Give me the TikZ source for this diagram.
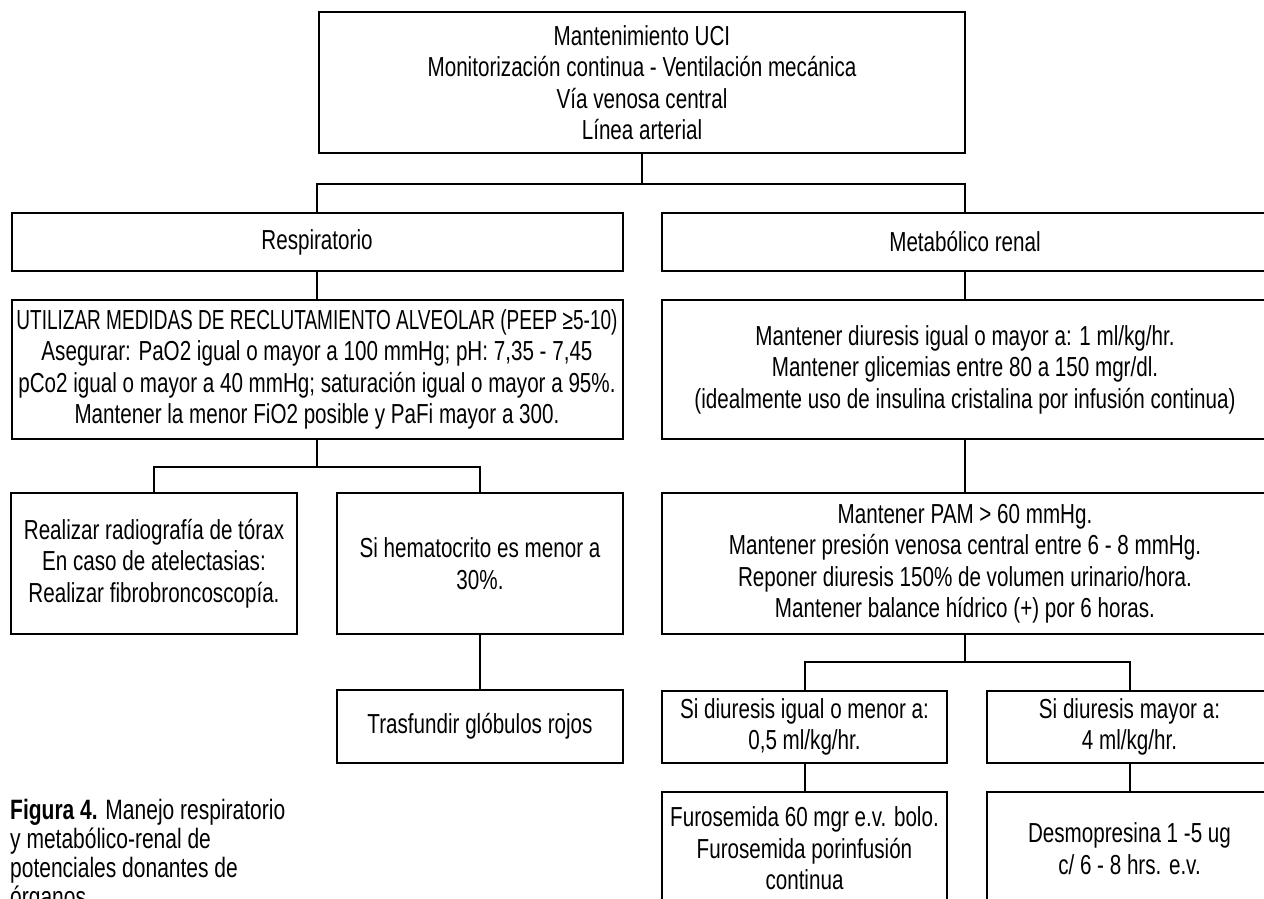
\documentclass[tikz,border=0pt]{standalone}
\usepackage{graphicx}
\usepackage{fontspec}
\setmainfont[FakeStretch=0.75]{Liberation Sans}
\newcommand\boxfont{\fontsize{27.5}{31.5}\selectfont}
\newcommand\capfont{\fontsize{28}{29}\selectfont}
\tikzset{
  box/.style={draw, line width=2pt, inner sep=0pt, align=center, font=\boxfont},
  link/.style={line width=2pt},
}
\begin{document}
\begin{tikzpicture}[x=1pt, y=-1pt]
\useasboundingbox (0,0) rectangle (1264,899);
\clip (0,0) rectangle (1264,899);

% top level
\node[box, minimum width=646pt, minimum height=141pt] (top) at (642,82.5)
  {Mantenimiento UCI\\Monitorización continua - Ventilación mecánica\\Vía venosa central\\Línea arterial};

% two branches
\node[box, minimum width=611pt, minimum height=58pt] (resp) at (317,242) {Respiratorio};
\node[box, minimum width=607pt, minimum height=58pt] (metab) at (965,242) {Metabólico renal};

% respiratory branch
\node[box, minimum width=611pt, minimum height=139pt] (util) at (317,369.5)
  {\scalebox{0.922}[1]{UTILIZAR MEDIDAS DE RECLUTAMIENTO ALVEOLAR (PEEP ≥5-10)}\\Asegurar: PaO2 igual o mayor a 100 mmHg; pH: 7,35 - 7,45\\pCo2 igual o mayor a 40 mmHg; saturación igual o mayor a 95\%.\\Mantener la menor FiO2 posible y PaFi mayor a 300.};
\node[box, minimum width=285.5pt, minimum height=141pt] (radio) at (154,563.5)
  {Realizar radiografía de tórax\\En caso de atelectasias:\\Realizar fibrobroncoscopía.};
\node[box, minimum width=285.5pt, minimum height=141pt] (hema) at (480,563.5)
  {Si hematocrito es menor a\\30\%.};
\node[box, minimum width=285.5pt, minimum height=73pt] (trasf) at (480,726.5)
  {Trasfundir glóbulos rojos};

% metabolic-renal branch
\node[box, minimum width=607pt, minimum height=139pt] (meta2) at (965,369.5)
  {Mantener diuresis igual o mayor a: 1 ml/kg/hr.\\Mantener glicemias entre 80 a 150 mgr/dl.\\(idealmente uso de insulina cristalina por infusión continua)};
\node[box, minimum width=607pt, minimum height=141pt] (pam) at (965,563.5)
  {Mantener PAM > 60 mmHg.\\Mantener presión venosa central entre 6 - 8 mmHg.\\Reponer diuresis 150\% de volumen urinario/hora.\\Mantener balance hídrico (+) por 6 horas.};
\node[box, minimum width=285.5pt, minimum height=72pt] (low) at (804.5,727)
  {Si diuresis igual o menor a:\\0,5 ml/kg/hr.};
\node[box, minimum width=285.5pt, minimum height=72pt] (high) at (1129.5,727)
  {Si diuresis mayor a:\\4 ml/kg/hr.};
\node[box, minimum width=285.5pt, minimum height=113pt] (furo) at (804.5,848.5)
  {Furosemida 60 mgr e.v. bolo.\\Furosemida porinfusión\\continua};
\node[box, minimum width=285.5pt, minimum height=113pt] (desmo) at (1129.5,848.5)
  {Desmopresina 1 -5 ug\\c/ 6 - 8 hrs. e.v.};

% connectors
\draw[link] (top.south) -- (top.south |- 0,184) coordinate (j1);
\draw[link] (j1) -| (resp.north);
\draw[link] (j1) -| (metab.north);
\draw[link] (resp.south) -- (util.north);
\draw[link] (metab.south) -- (meta2.north);
\draw[link] (util.south) -- (util.south |- 0,467) coordinate (j2);
\draw[link] (j2) -| (radio.north);
\draw[link] (j2) -| (hema.north);
\draw[link] (hema.south) -- (trasf.north);
\draw[link] (meta2.south) -- (pam.north);
\draw[link] (pam.south) -- (pam.south |- 0,662) coordinate (j3);
\draw[link] (j3) -| (low.north);
\draw[link] (j3) -| (high.north);
\draw[link] (low.south) -- (furo.north);
\draw[link] (high.south) -- (desmo.north);

% caption
\node[anchor=north west, align=left, inner sep=0pt, font=\capfont] (cap) at (10,799)
  {\textbf{Figura 4.} Manejo respiratorio\\y metabólico-renal de\\potenciales donantes de\\órganos};
\end{tikzpicture}
\end{document}
